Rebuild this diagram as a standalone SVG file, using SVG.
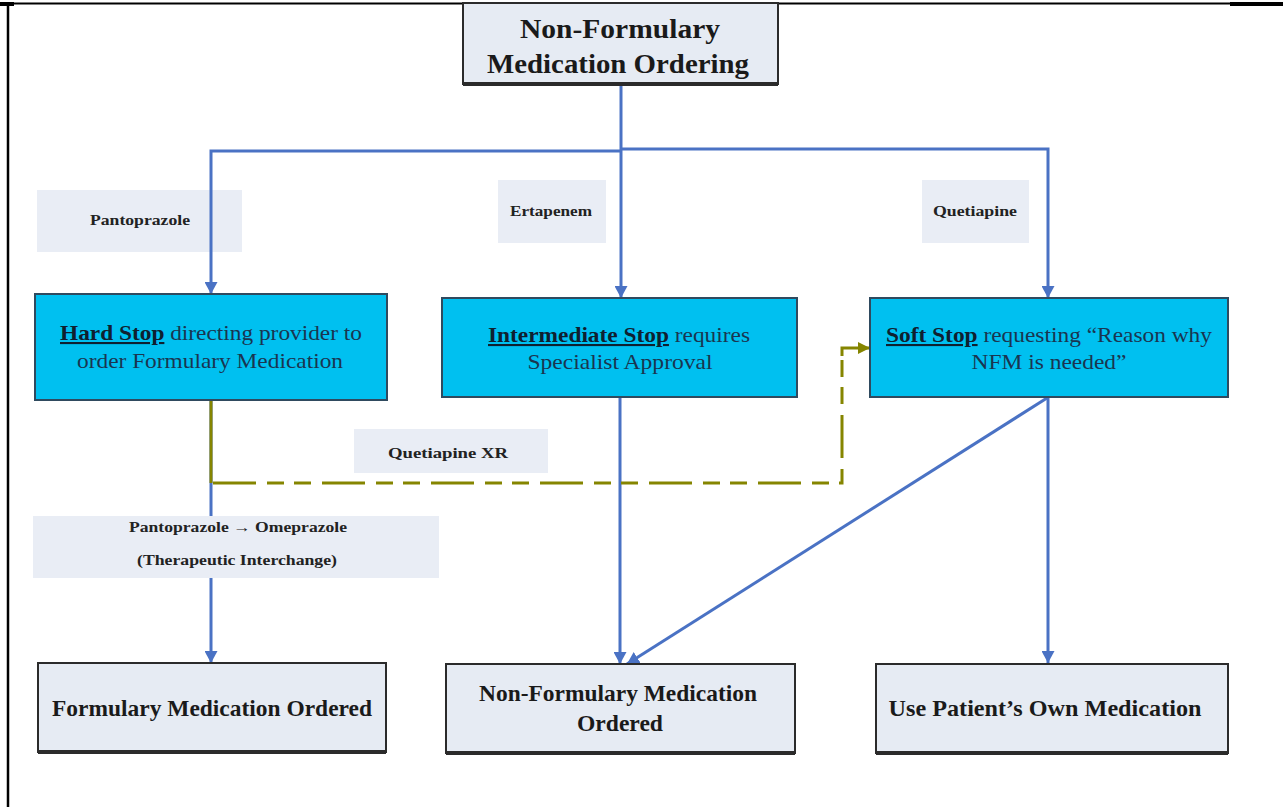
<svg xmlns="http://www.w3.org/2000/svg" width="1283" height="807" viewBox="0 0 1283 807">
<style>
.page{stroke:#000;fill:none}
.lbl{fill:#e9edf5;stroke:none}
.lbltxt{font-family:"Liberation Serif",serif;font-weight:bold;font-size:14px;fill:#222;text-anchor:middle}
.stop{fill:#00c0f0;stroke:#2f4a5f;stroke-width:2}
.stoptxt{font-family:"Liberation Serif",serif;font-size:21px;fill:#1a3550;text-anchor:middle}
.stoptxt .b{font-weight:bold;text-decoration:underline;fill:#0f2030}
.grey{fill:#e6ebf3;stroke:#2b2b2b;stroke-width:2}
.shadow{stroke:#2b2b2b;stroke-width:4}
.btxt{font-family:"Liberation Serif",serif;font-weight:bold;font-size:23px;fill:#1a1a1a;text-anchor:middle}
.ttxt{font-family:"Liberation Serif",serif;font-weight:bold;font-size:28px;fill:#1a1a1a;text-anchor:middle}
.blue{stroke:#4a72c4;stroke-width:3;fill:none}
.olive{stroke:#858500;stroke-width:3;fill:none}
</style>
<defs>
<marker id="ab" markerWidth="12" markerHeight="13" refX="12" refY="6.5" orient="auto" markerUnits="userSpaceOnUse" viewBox="0 0 12 13"><path d="M0,0 L12,6.5 L0,13 z" fill="#4a72c4"/></marker>
<marker id="ao" markerWidth="12" markerHeight="12" refX="12" refY="6" orient="auto" markerUnits="userSpaceOnUse" viewBox="0 0 12 12"><path d="M0,0 L12,6 L0,12 z" fill="#858500"/></marker>
</defs>
<rect width="1283" height="807" fill="#fff"/>
<g id="page">
<line class="page" x1="0" y1="3.5" x2="1283" y2="3.5" stroke-width="2"/>
<line class="page" x1="0" y1="4" x2="14" y2="4" stroke-width="4"/>
<line class="page" x1="1230" y1="4" x2="1283" y2="4" stroke-width="4"/>
<line class="page" x1="8" y1="3" x2="8" y2="807" stroke-width="2.5"/>
</g>
<g id="labels">
<g id="lbl-pantoprazole"><rect class="lbl" x="37" y="190" width="205" height="62"/><text class="lbltxt" x="140" y="225" textLength="100" lengthAdjust="spacingAndGlyphs">Pantoprazole</text></g>
<g id="lbl-ertapenem"><rect class="lbl" x="498" y="180" width="108" height="63"/><text class="lbltxt" x="551" y="216" textLength="82" lengthAdjust="spacingAndGlyphs">Ertapenem</text></g>
<g id="lbl-quetiapine"><rect class="lbl" x="922" y="180" width="107" height="63"/><text class="lbltxt" x="975" y="216" textLength="84" lengthAdjust="spacingAndGlyphs">Quetiapine</text></g>
<g id="lbl-quetiapinexr"><rect class="lbl" x="354" y="429" width="194" height="44"/><text class="lbltxt" x="448" y="458" textLength="120" lengthAdjust="spacingAndGlyphs">Quetiapine XR</text></g>
</g>
<g id="connectors">
<path class="blue" d="M621,84 V298" marker-end="url(#ab)"/>
<path class="blue" d="M621,151 H211 V294" marker-end="url(#ab)"/>
<path class="blue" d="M621,149 H1048 V298" marker-end="url(#ab)"/>
<path class="blue" d="M211,401 V663" marker-end="url(#ab)"/>
<path class="blue" d="M620,397 V664" marker-end="url(#ab)"/>
<path class="blue" d="M1047,398 L627,664" marker-end="url(#ab)"/>
<path class="blue" d="M1048,398 V663" marker-end="url(#ab)"/>
<path class="olive" d="M211,401 V483"/>
<path class="olive" d="M213,483 H842 V356" stroke-dasharray="43 11 17 10 17 11"/>
<path class="olive" d="M842,356 V348 H870" marker-end="url(#ao)"/>
</g>
<g id="lbl-interchange"><rect class="lbl" x="33" y="516" width="406" height="62"/><text class="lbltxt" x="238" y="532" textLength="218" lengthAdjust="spacingAndGlyphs">Pantoprazole → Omeprazole</text><text class="lbltxt" x="237" y="565" textLength="200" lengthAdjust="spacingAndGlyphs">(Therapeutic Interchange)</text></g>
<g id="node-top">
<rect class="grey" x="463" y="3" width="315" height="81" stroke="#555"/>
<line class="shadow" x1="463" y1="84" x2="778" y2="84" stroke="#555"/>
<text class="ttxt" x="620" y="38" textLength="200" lengthAdjust="spacingAndGlyphs">Non-Formulary</text>
<text class="ttxt" x="618" y="73" textLength="262" lengthAdjust="spacingAndGlyphs">Medication Ordering</text>
</g>
<g id="node-hard">
<rect class="stop" x="35" y="294" width="352" height="106"/>
<text class="stoptxt" x="211" y="340" textLength="302" lengthAdjust="spacingAndGlyphs"><tspan class="b">Hard Stop</tspan> directing provider to</text>
<text class="stoptxt" x="210" y="368" textLength="266" lengthAdjust="spacingAndGlyphs">order Formulary Medication</text>
</g>
<g id="node-intermediate">
<rect class="stop" x="442" y="298" width="355" height="99"/>
<text class="stoptxt" x="619" y="342" textLength="262" lengthAdjust="spacingAndGlyphs"><tspan class="b">Intermediate Stop</tspan> requires</text>
<text class="stoptxt" x="620" y="369" textLength="185" lengthAdjust="spacingAndGlyphs">Specialist Approval</text>
</g>
<g id="node-soft">
<rect class="stop" x="870" y="298" width="358" height="99"/>
<text class="stoptxt" x="1049" y="342" textLength="326" lengthAdjust="spacingAndGlyphs"><tspan class="b">Soft Stop</tspan> requesting “Reason why</text>
<text class="stoptxt" x="1049" y="369" textLength="155" lengthAdjust="spacingAndGlyphs">NFM is needed”</text>
</g>
<g id="node-formulary">
<rect class="grey" x="38" y="663" width="348" height="89"/>
<line class="shadow" x1="38" y1="752" x2="386" y2="752"/>
<text class="btxt" x="212" y="716" textLength="320" lengthAdjust="spacingAndGlyphs">Formulary Medication Ordered</text>
</g>
<g id="node-nonformulary">
<rect class="grey" x="446" y="664" width="349" height="89"/>
<line class="shadow" x1="446" y1="753" x2="795" y2="753"/>
<text class="btxt" x="618" y="701" textLength="278" lengthAdjust="spacingAndGlyphs">Non-Formulary Medication</text>
<text class="btxt" x="620" y="731" textLength="86" lengthAdjust="spacingAndGlyphs">Ordered</text>
</g>
<g id="node-own">
<rect class="grey" x="876" y="664" width="352" height="89"/>
<line class="shadow" x1="876" y1="753" x2="1228" y2="753"/>
<text class="btxt" x="1045" y="716" textLength="313" lengthAdjust="spacingAndGlyphs">Use Patient’s Own Medication</text>
</g>
</svg>
